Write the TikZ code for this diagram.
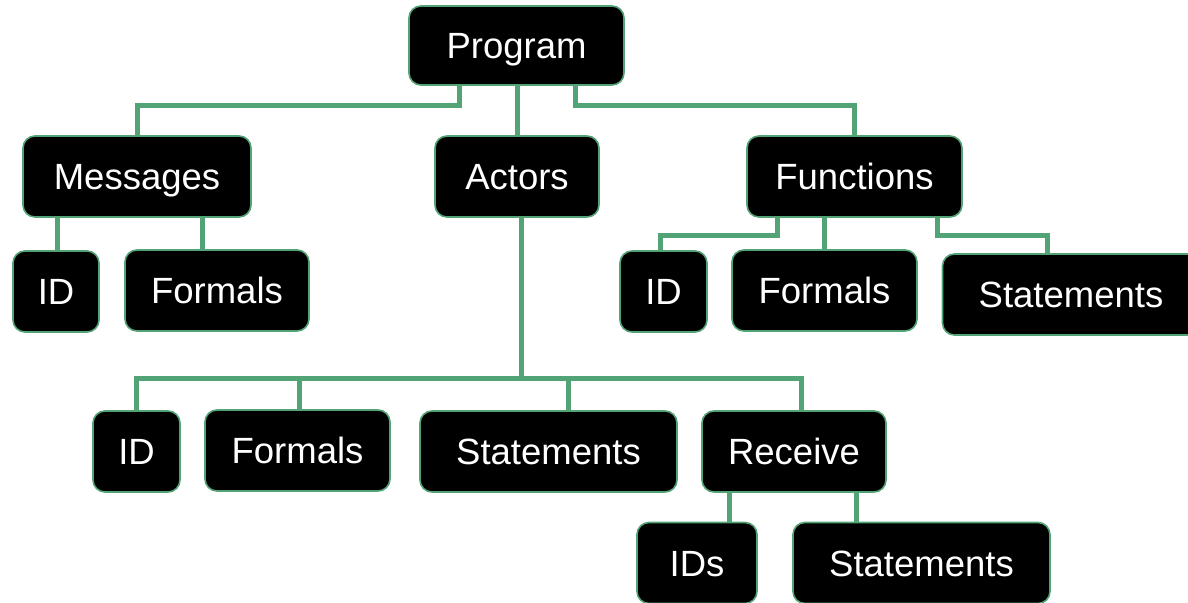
\documentclass[tikz,border=0pt]{standalone}
\usepackage{fontspec}
\setmainfont{Liberation Sans}
\definecolor{treegreen}{RGB}{82, 164, 118}
\usetikzlibrary{positioning}

\begin{document}
\begin{tikzpicture}[
  x=0.5pt, y=-0.5pt,
  box/.style={draw=treegreen, line width=0.8pt, fill=black, text=white, rounded corners=6pt,
    minimum height=40.5pt, inner sep=0pt, text height=13pt, text depth=0pt,
    font=\fontsize{18.25}{20}\selectfont},
  link/.style={draw=treegreen, line width=2.5pt},
]
  \clip (0,0) rectangle (1188,603);

  % top levels
  \node[box, minimum width=107.5pt, minimum height=39.5pt] (prog) at (516.5, 45.5) {Program};
  \node[box, minimum width=114pt] (msg) at (137, 176.5) {Messages};
  \node[box, minimum width=82pt] (act) at (517, 176.5) {Actors};
  \node[box, minimum width=107.5pt] (fun) at (854.5, 176.5) {Functions};

  % messages children
  \node[box, minimum width=43pt] (mid) at (56, 291.5) {ID};
  \node[box, minimum width=92pt] (mform) at (217, 290.5) {Formals};

  % functions children
  \node[box, minimum width=43.5pt] (fid) at (663.5, 291.5) {ID};
  \node[box, minimum width=92.5pt] (fform) at (824.5, 290.5) {Formals};
  \node[box, minimum width=128.5pt] (fstat) at (1071, 294.5) {Statements};

  % actors children
  \node[box, minimum width=43.5pt] (aid) at (136.5, 451.5) {ID};
  \node[box, minimum width=92.5pt] (aform) at (297.5, 450.5) {Formals};
  \node[box, minimum width=128.5pt] (astat) at (548.5, 451.5) {Statements};
  \node[box, minimum width=92pt] (rec) at (794, 451.5) {Receive};

  % receive children
  \node[box, minimum width=60pt] (rids) at (697, 563) {IDs};
  \node[box, minimum width=128.5pt] (rstat) at (921.5, 563) {Statements};

  % program
  \coordinate (pl) at (459, 106);
  \coordinate (pr) at (575, 106);
  \draw[link] (pl |- prog.south) -- (pl) -| (msg.north);
  \draw[link] (act.north |- prog.south) -- (act.north);
  \draw[link] (pr |- prog.south) -- (pr) -| (fun.north);

  % messages
  \coordinate (m1) at (57, 0);
  \coordinate (m2) at (202, 0);
  \draw[link] (m1 |- msg.south) -- (m1 |- mid.north);
  \draw[link] (m2 |- msg.south) -- (m2 |- mform.north);

  % functions
  \coordinate (fl) at (777, 236);
  \coordinate (fr) at (937, 236);
  \coordinate (f1) at (660, 236);
  \coordinate (f3) at (1047, 236);
  \draw[link] (fl |- fun.south) -- (fl) -- (f1) -- (f1 |- fid.north);
  \draw[link] (fform.north |- fun.south) -- (fform.north);
  \draw[link] (fr |- fun.south) -- (fr) -- (f3) -- (f3 |- fstat.north);

  % actors
  \coordinate (abus) at (521, 379);
  \coordinate (a2) at (299, 379);
  \coordinate (a3) at (568, 379);
  \coordinate (a4) at (801, 379);
  \draw[link] (abus |- act.south) -- (abus);
  \draw[link] (aid.north) |- (a4) -- (a4 |- rec.north);
  \draw[link] (a2) -- (a2 |- aform.north);
  \draw[link] (a3) -- (a3 |- astat.north);

  % receive
  \coordinate (r1) at (729, 0);
  \coordinate (r2) at (856, 0);
  \draw[link] (r1 |- rec.south) -- (r1 |- rids.north);
  \draw[link] (r2 |- rec.south) -- (r2 |- rstat.north);
\end{tikzpicture}
\end{document}
